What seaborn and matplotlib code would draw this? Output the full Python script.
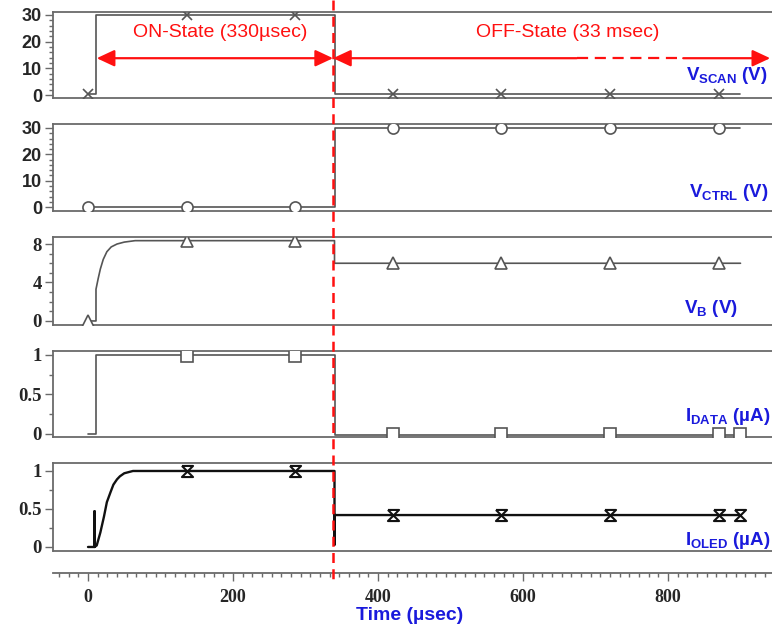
import matplotlib
matplotlib.use("Agg")
import matplotlib.pyplot as plt
import matplotlib.transforms as mtransforms
from matplotlib.lines import Line2D
from matplotlib.ticker import MultipleLocator
import seaborn as sns

# ---------------- data ----------------
t_scan = [0, 11, 11, 340, 340, 900]
v_scan = [0.5, 0.5, 30, 30, 0.5, 0.5]
mk_t = [0, 136, 286, 420, 570, 720, 870]
mk_scan = [0.5, 30, 30, 0.5, 0.5, 0.5, 0.5]

t_ctrl = [0, 340, 340, 900]
v_ctrl = [0, 0, 30, 30]
mk_ctrl = [0, 0, 0, 30, 30, 30, 30]

t_b = [0, 11, 11, 14, 17, 21, 26, 32, 40, 50, 65, 340, 340, 900]
v_b = [0, 0, 3.3, 4.4, 5.4, 6.4, 7.2, 7.7, 8.0, 8.2, 8.35, 8.35, 6.0, 6.0]
mk_b = [0, 8.35, 8.35, 6.0, 6.0, 6.0, 6.0]

t_data = [0, 11, 11, 340, 340, 900]
i_data = [0, 0, 1.0, 1.0, -0.01, -0.01]
mk_t2 = [136, 286, 420, 570, 720, 870, 900]
mk_data = [0.985, 0.985, 0, 0, 0, 0, 0]

t_oled = [0, 9, 9, 9, 12, 17, 22, 26, 31, 35, 40, 44, 50, 62, 340, 340, 340, 900]
i_oled = [0, 0, 0.47, 0, 0.02, 0.19, 0.40, 0.59, 0.72, 0.82, 0.89, 0.93, 0.97,
          1.0, 1.0, 0.03, 0.42, 0.42]
mk_oled = [1.0, 1.0, 0.42, 0.42, 0.42, 0.42, 0.42]

t_switch = 338
on_arrow = [12, 338]
off_arrow = [338, 674, 821, 941]
arrow_y = 13.8

yticks = [[0, 10, 20, 30], [0, 10, 20, 30], [0, 4, 8], [0, 0.5, 1], [0, 0.5, 1]]
yticklabels = [["0", "10", "20", "30"], ["0", "10", "20", "30"], ["0", "4", "8"],
               ["0", "0.5", "1"], ["0", "0.5", "1"]]
yminor = [2, 2, 1, 0.25, 0.25]
ylims = [(-1.1, 31.1), (-1.5, 31.5), (-0.42, 8.73), (-0.038, 1.05), (-0.053, 1.105)]
xticks = [0, 200, 400, 600, 800]
labels = [r"V$_{\mathbf{SCAN}}$ (V)", r"V$_{\mathbf{CTRL}}$ (V)", r"V$_{\mathbf{B}}$ (V)",
          r"I$_{\mathbf{DATA}}$ (µA)", r"I$_{\mathbf{OLED}}$ (µA)"]

# ---------------- style ----------------
sns.set_style("white")
plt.rcParams["font.family"] = ["Liberation Sans", "DejaVu Sans"]
plt.rcParams["mathtext.fontset"] = "custom"
plt.rcParams["mathtext.rm"] = "Liberation Sans:bold"
plt.rcParams["mathtext.bf"] = "Liberation Sans:bold"
plt.rcParams["mathtext.it"] = "Liberation Sans:italic:bold"

W, H = 772, 631
fig = plt.figure(figsize=(W / 100, H / 100), dpi=100)
fig.patch.set_facecolor("white")

panel_px = [(12, 98), (124, 211), (237, 325), (351, 437), (463, 551)]
left_px, right_px = 53, 775
xlim = (-48.3, 947.6)

frame_c = "#6a6a6a"
line_c = "#555555"
blue = "#1a1adc"

axes = []
for (top, bot) in panel_px:
    ax = fig.add_axes([left_px / W, 1 - bot / H, (right_px - left_px) / W, (bot - top) / H])
    axes.append(ax)

series = [
    (t_scan, v_scan, mk_t, mk_scan, "x", 7, line_c, 1.2),
    (t_ctrl, v_ctrl, mk_t, mk_ctrl, "o", 8, line_c, 1.2),
    (t_b, v_b, mk_t, mk_b, "^", 8, line_c, 1.2),
    (t_data, i_data, mk_t2, mk_data, "s", 9, line_c, 1.2),
    (t_oled, i_oled, mk_t2, mk_oled, [(-1, 1), (1, 1), (-1, -1), (1, -1), (-1, 1)], 8, "#111111", 1.7),
]

sans_fonts = ["Liberation Sans", "Liberation Sans", "Liberation Serif", "Liberation Serif", "Liberation Serif"]
tick_sizes = [13, 13, 13.5, 13.5, 13.5]

for i, ax in enumerate(axes):
    tx, ty, mx, my, mk, ms, col, lw = series[i]
    sns.lineplot(x=tx, y=ty, sort=False, estimator=None, ax=ax, color=col, lw=lw)
    ax.plot(mx, my, linestyle="none", marker=mk, markersize=ms, markerfacecolor="white",
            markeredgecolor=col, markeredgewidth=1.2 if i < 4 else 1.5, zorder=3)
    ax.set_xlim(*xlim)
    ax.set_ylim(*ylims[i])
    ax.set_yticks(yticks[i])
    ax.set_yticklabels(yticklabels[i], fontweight="bold", family=sans_fonts[i], fontsize=tick_sizes[i])
    ax.yaxis.set_minor_locator(MultipleLocator(yminor[i]))
    ax.tick_params(axis="y", which="major", direction="out", length=6, width=1,
                   color=frame_c, pad=2, left=True)
    ax.tick_params(axis="y", which="minor", direction="out", length=3, width=1,
                   color=frame_c, left=True)
    for sp in ax.spines.values():
        sp.set_color(frame_c)
        sp.set_linewidth(1.3)
        sp.set_visible(True)
    ax.set_xlabel("")
    ax.set_ylabel("")
    if i < 4:
        ax.tick_params(axis="x", which="both", bottom=False, labelbottom=False)

# bottom axis with offset spine
ax5 = axes[4]
ax5.spines["bottom"].set_position(("outward", 16))
ax5.plot([0, 1], [0, 0], transform=ax5.transAxes, color=frame_c, lw=1.3, clip_on=False, zorder=4)
ax5.set_xticks(xticks)
ax5.set_xticklabels([str(v) for v in xticks], fontweight="bold", family="Liberation Serif", fontsize=13)
ax5.xaxis.set_minor_locator(MultipleLocator(200 / 15))
ax5.tick_params(axis="x", which="major", direction="out", length=6, width=1, color=frame_c,
                pad=5, bottom=True)
ax5.tick_params(axis="x", which="minor", direction="out", length=3, width=1, color=frame_c,
                bottom=True)
fig.text(410 / W, 1 - 616 / H, "Time (µsec)", color=blue, fontsize=14, fontweight="bold",
         ha="center", va="center")

# blue labels
label_pos = [(768, 80), (768, 197), (738, 313), (770, 421), (770, 545)]
for lab, (px, py) in zip(labels, label_pos):
    fig.text(px / W, 1 - py / H, lab, color=blue, fontsize=13.5, fontweight="bold",
             ha="right", va="baseline")

# red state annotations
ax1 = axes[0]
red = "#ff1010"
ahead = "-|>,head_length=0.6,head_width=0.28"
ax1.annotate("", xy=(on_arrow[0], arrow_y), xytext=(on_arrow[1], arrow_y),
             arrowprops=dict(arrowstyle="<|-|>,head_length=0.6,head_width=0.28", color=red, lw=1.6,
                             mutation_scale=18, shrinkA=0, shrinkB=0), annotation_clip=False)
ax1.annotate("", xy=(off_arrow[0], arrow_y), xytext=(off_arrow[1], arrow_y),
             arrowprops=dict(arrowstyle=ahead, color=red, lw=1.6,
                             mutation_scale=18, shrinkA=0, shrinkB=0), annotation_clip=False)
ax1.plot(off_arrow[1:3], [arrow_y, arrow_y], color=red, lw=1.6, ls=(0, (5, 3)), clip_on=False)
ax1.annotate("", xy=(off_arrow[3], arrow_y), xytext=(off_arrow[2], arrow_y),
             arrowprops=dict(arrowstyle=ahead, color=red, lw=1.6,
                             mutation_scale=18, shrinkA=0, shrinkB=0), annotation_clip=False)
ax1.text(182, 23.4, "ON-State (330µsec)", color=red, fontsize=14, ha="center", va="center")
ax1.text(662, 23.4, "OFF-State (33 msec)", color=red, fontsize=14, ha="center", va="center")

# red dashed vertical line through all panels
trans = mtransforms.blended_transform_factory(ax1.transData, fig.transFigure)
fig.add_artist(Line2D([t_switch, t_switch], [1.0, 1 - 581 / H], transform=trans, color=red,
                      lw=1.8, ls=(0, (4, 2.5)), zorder=10))

fig.savefig("out.png", dpi=100, facecolor="white")
